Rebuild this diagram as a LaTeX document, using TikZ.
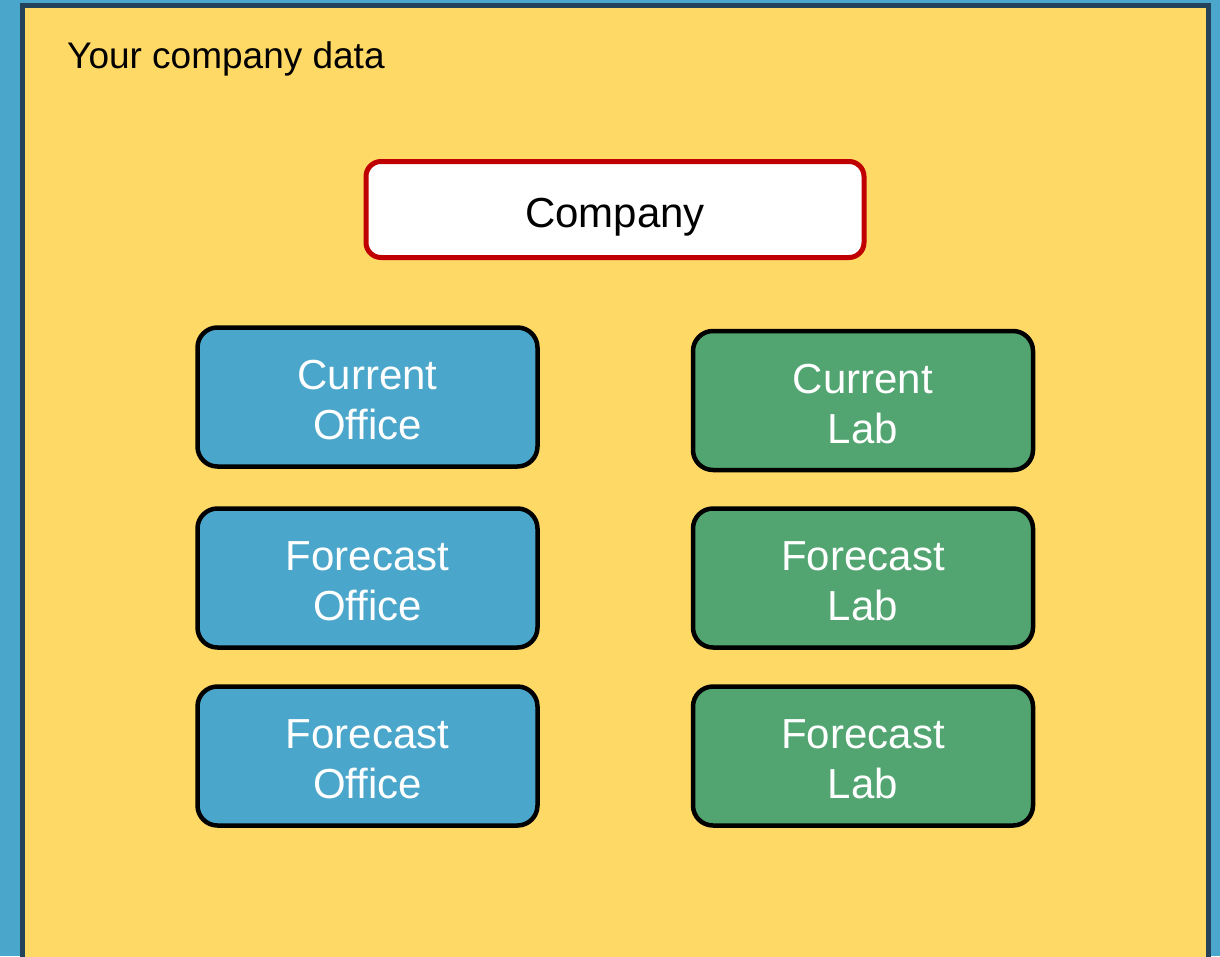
\documentclass[tikz,border=0pt]{standalone}
\usepackage{fontspec}
\setmainfont{Liberation Sans}
\usetikzlibrary{positioning}

\definecolor{skyblue}{RGB}{74,166,202}
\definecolor{panelyellow}{RGB}{255,217,102}
\definecolor{paneledge}{RGB}{36,66,90}
\definecolor{labgreen}{RGB}{82,165,113}
\definecolor{companyred}{RGB}{192,0,0}

\newcommand{\boxstrut}{\rule{0pt}{36pt}}

\tikzset{
    unitbox/.style={rectangle, rounded corners=20pt, draw=black, line width=4.5pt,
        minimum width=340pt, minimum height=139pt, text=white, align=center,
        font=\fontsize{42}{50}\selectfont},
    officebox/.style={unitbox, fill=skyblue},
    labbox/.style={unitbox, fill=labgreen}
}

\begin{document}
\begin{tikzpicture}[x=1pt, y=-1pt]
    % background and panel
    \fill[skyblue] (0,0) rectangle (1220,956);
    \useasboundingbox (0,0) rectangle (1220,956);
    \draw[paneledge, fill=panelyellow, line width=5pt] (22.5,5.5) rectangle (1208.5,970);

    % title
    \node[anchor=base west, inner sep=0pt, font=\fontsize{37}{44}\selectfont] (title) at (67,68) {Your company data};

    % Company
    \node[rectangle, rounded corners=15pt, draw=companyred, line width=5pt, fill=white,
        minimum width=498pt, minimum height=96pt, text height=35pt, text depth=0pt,
        font=\fontsize{42}{50}\selectfont] (company) at (615,209.5) {Company};

    % Office column
    \node[officebox] (curoffice) at (367.5,397) {\boxstrut Current\\Office};
    \node[officebox] (foreoffice1) at (367.5,578) {\boxstrut Forecast\\Office};
    \node[officebox] (foreoffice2) at (367.5,756) {\boxstrut Forecast\\Office};

    % Lab column
    \node[labbox] (curlab) at (863,400.5) {\boxstrut Current\\Lab};
    \node[labbox] (forelab1) at (863,578) {\boxstrut Forecast\\Lab};
    \node[labbox] (forelab2) at (863,756) {\boxstrut Forecast\\Lab};
\end{tikzpicture}
\end{document}
